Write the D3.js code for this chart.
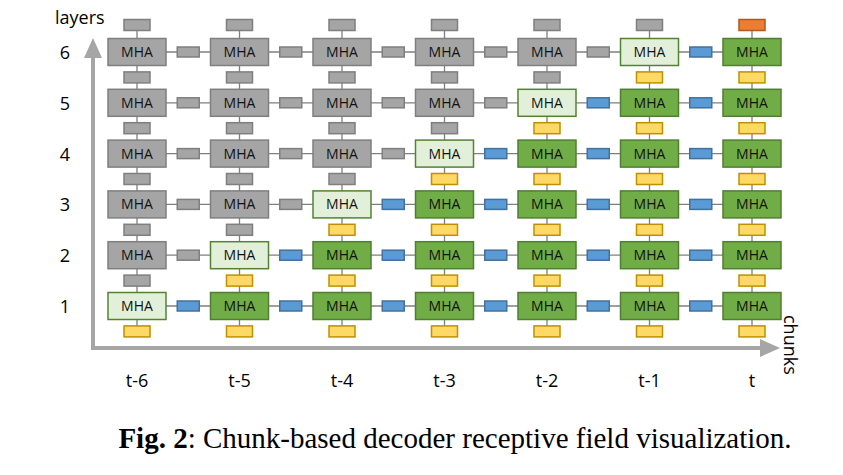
<!DOCTYPE html>
<html><head><meta charset="utf-8">
<script src="https://cdn.jsdelivr.net/npm/d3@7"></script>
<style>body{margin:0;background:#fff}</style>
</head><body>
<div id="chart"></div>
<script>
var chunks = ["t-6","t-5","t-4","t-3","t-2","t-1","t"];
var layers = [1,2,3,4,5,6];

var w = 843, h = 475;
var svg = d3.select("#chart").append("svg").attr("width", w).attr("height", h);

var x = d3.scalePoint().domain(chunks).range([137, 752]);
var y = d3.scalePoint().domain(layers).range([306, 52]);
var dy = (y(1) - y(2));

var col = {
  grayF:"#a5a5a5", grayS:"#7f7f7f",
  greenF:"#70ad47", greenS:"#507e32",
  lightF:"#e2f0d9", lightS:"#548235",
  blueF:"#5b9bd5", blueS:"#41719c",
  yelF:"#ffd966", yelS:"#bf9000",
  orF:"#ed7d31", orS:"#ae5a21"
};

function state(ci, l) {
  if (ci == l - 1) return "light";
  if (ci > l - 1) return "green";
  return "gray";
}

var g = svg.append("g");

// connecting lines
layers.forEach(function(l) {
  g.append("line").attr("x1", x(chunks[0])).attr("x2", x(chunks[6]))
    .attr("y1", y(l)).attr("y2", y(l)).attr("stroke", "#7f7f7f").attr("stroke-width", 1.3);
});
chunks.forEach(function(c) {
  g.append("line").attr("x1", x(c)).attr("x2", x(c))
    .attr("y1", y(6) - 27).attr("y2", y(1) + 25).attr("stroke", "#7f7f7f").attr("stroke-width", 1.3);
});

function box(cx, cy, bw, bh, f, s) {
  g.append("rect").attr("x", cx - bw/2).attr("y", cy - bh/2).attr("width", bw).attr("height", bh)
    .attr("fill", f).attr("stroke", s).attr("stroke-width", 1.5);
}

chunks.forEach(function(c, ci) {
  // top output box
  if (c == "t") box(x(c), y(6) - 27, 26, 11, col.orF, col.orS);
  else box(x(c), y(6) - 27, 26, 11, col.grayF, col.grayS);
  layers.forEach(function(l) {
    var s = state(ci, l);
    var act = s != "gray";
    if (act) box(x(c), y(l) + dy/2, 26, 11, col.yelF, col.yelS);
    else box(x(c), y(l) + dy/2, 26, 11, col.grayF, col.grayS);
    if (ci < 6) {
      var mx = (x(c) + x(chunks[ci+1])) / 2;
      if (act) box(mx, y(l), 22, 10, col.blueF, col.blueS);
      else box(mx, y(l), 22, 10, col.grayF, col.grayS);
    }
    var f = s == "light" ? col.lightF : s == "green" ? col.greenF : col.grayF;
    var st = s == "light" ? col.lightS : s == "green" ? col.greenS : col.grayS;
    box(x(c), y(l), 58, 27, f, st);
    g.append("text").attr("x", x(c)).attr("y", y(l) + 5).attr("text-anchor", "middle")
      .attr("font-family", "Open Sans, sans-serif").attr("font-size", 14).attr("fill", "#111")
      .text("MHA");
  });
});

// axes arrows
var ax = svg.append("g").attr("stroke", "#a6a6a6").attr("fill", "#a6a6a6");
ax.append("line").attr("x1", 93).attr("y1", 348).attr("x2", 93).attr("y2", 56).attr("stroke-width", 4);
ax.append("path").attr("d", "M84,58 L93,38 L102,58 Z").attr("stroke", "none");
ax.append("line").attr("x1", 91).attr("y1", 348).attr("x2", 762).attr("y2", 348).attr("stroke-width", 4);
ax.append("path").attr("d", "M760,339 L780,348 L760,357 Z").attr("stroke", "none");

var tf = "Open Sans, sans-serif";
svg.append("text").attr("x", 55).attr("y", 24).attr("font-family", tf).attr("font-size", 18).text("layers");
svg.append("text").attr("transform", "translate(784,315) rotate(90)").attr("font-family", tf).attr("font-size", 18).text("chunks");
layers.forEach(function(l) {
  svg.append("text").attr("x", 65).attr("y", y(l) + 7).attr("text-anchor", "middle")
    .attr("font-family", tf).attr("font-size", 18).text(l);
});
chunks.forEach(function(c) {
  svg.append("text").attr("x", x(c)).attr("y", 387).attr("text-anchor", "middle")
    .attr("font-family", tf).attr("font-size", 18).text(c);
});

var cap = svg.append("text").attr("x", 455).attr("y", 448).attr("text-anchor", "middle")
  .attr("font-family", "Liberation Serif, serif").attr("font-size", 29);
cap.append("tspan").attr("font-weight", "bold").text("Fig. 2");
cap.append("tspan").text(": Chunk-based decoder receptive field visualization.");
</script>
</body></html>
